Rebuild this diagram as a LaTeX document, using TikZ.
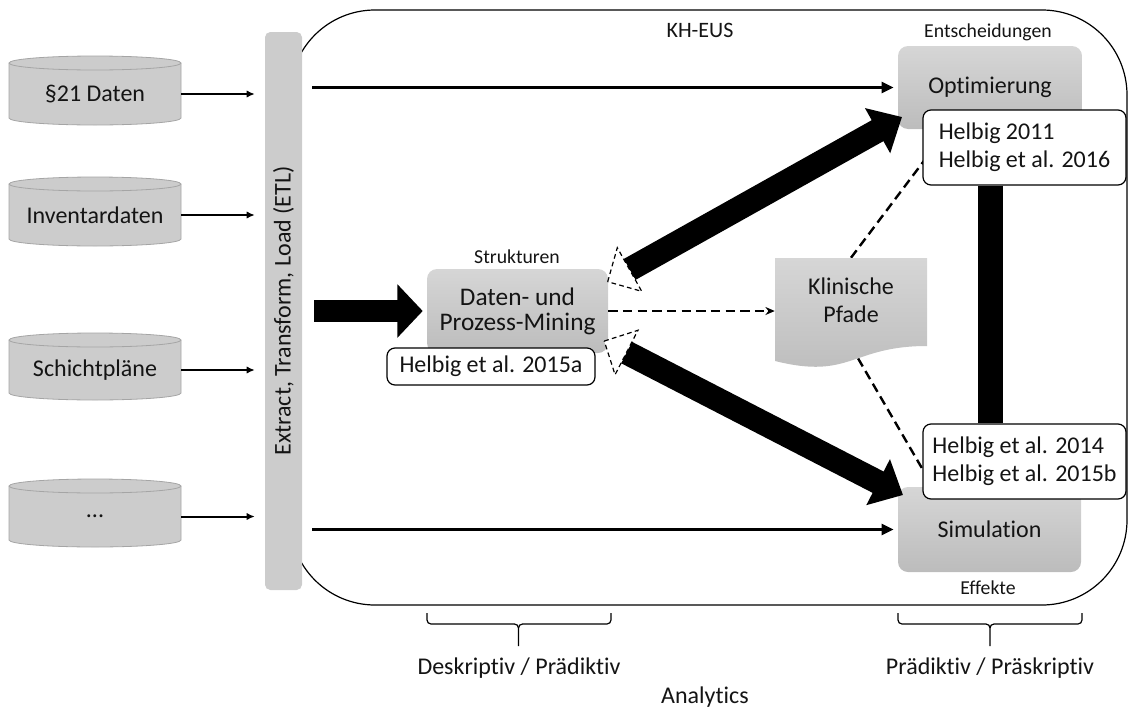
\documentclass[tikz,border=0pt]{standalone}
\usepackage{fontspec}
\setmainfont[Ligatures=NoCommon]{Carlito}
\usetikzlibrary{arrows.meta,calc}

\definecolor{boxtop}{RGB}{214,214,214}
\definecolor{boxbot}{RGB}{188,188,188}
\definecolor{etlgray}{RGB}{204,204,204}
\definecolor{cylgray}{RGB}{204,204,204}
\definecolor{cylline}{RGB}{165,165,165}
\definecolor{inktext}{RGB}{20,20,20}

\newcommand\mainsize{\fontsize{18}{21}\selectfont}
\newcommand\minorsize{\fontsize{14.8}{17}\selectfont}

% database cylinder: #1 name, #2 top y, #3 bottom y, #4 label
\newcommand{\dbcyl}[4]{%
  \pgfmathsetmacro\cyt{#2+7}%
  \pgfmathsetmacro\cyb{#3-7}%
  \pgfmathsetmacro\cym{(\cyt+#3)/2}%
  \path[fill=cylgray, draw=cylline, line width=0.6pt]
    (9,\cyt) -- (9,\cyb) .. controls (9,\cyb+3.9) and (47.5,#3) .. (95,#3)
    .. controls (142.5,#3) and (181,\cyb+3.9) .. (181,\cyb) -- (181,\cyt)
    .. controls (181,\cyt-3.9) and (142.5,#2) .. (95,#2)
    .. controls (47.5,#2) and (9,\cyt-3.9) .. (9,\cyt) -- cycle;
  \draw[cylline, line width=0.6pt] (9,\cyt) .. controls (9,\cyt+3.9) and (47.5,\cyt+7) .. (95,\cyt+7)
    .. controls (142.5,\cyt+7) and (181,\cyt+3.9) .. (181,\cyt);
  \node[cyltext] (#1) at (95,\cym) {#4};%
}

\begin{document}
\begin{tikzpicture}[x=0.75pt,y=-0.75pt,
  every node/.style={text=inktext},
  cyltext/.style={minimum width=129pt, minimum height=30pt, inner sep=0pt, font=\mainsize},
  graybox/.style={rounded corners=7.5pt, top color=boxtop, bottom color=boxbot, draw=none,
    align=center, font=\mainsize, inner sep=0pt},
  refbox/.style={draw=black, line width=0.9pt, fill=white, rounded corners=6pt, align=left,
    font=\mainsize, minimum width=152.25pt, inner xsep=0pt, inner ysep=0pt, minimum height=56.25pt},
  minorlabel/.style={font=\minorsize, inner sep=0pt},
  feed/.style={line width=1.5pt, -{Latex[length=6pt,width=5.5pt]}},
  flow/.style={line width=2.25pt, -{Triangle[length=9pt,width=8pt]}},
  fat/.style={line width=18pt, -{Triangle[length=21pt,width=37.5pt]}},
  dashlink/.style={line width=1.8pt, dash pattern=on 7pt off 4pt},
  opentri/.style={draw=black, fill=white, line width=0.9pt, dash pattern=on 3.5pt off 2.5pt, line join=miter},
  bracket/.style={line width=0.9pt}
]
\useasboundingbox (0,0) rectangle (1136,711);

% system frame
\draw[line width=0.9pt, rounded corners=63.75pt] (290,10) rectangle (1127,605);
\node[minorlabel, font=\fontsize{16.5}{19}\selectfont] (kheus) at (700,30) {KH-EUS};

% ETL bar
\node[fill=etlgray, rounded corners=4pt, minimum width=27.75pt, minimum height=418.5pt, inner sep=0pt]
  (etl) at (283.5,311) {};
\node[rotate=90, font=\mainsize, inner sep=0pt] (etltext) at (etl.center) {Extract, Transform, Load (ETL)};

% data sources
\dbcyl{c1}{56}{125}{§21 Daten}
\dbcyl{c2}{177}{246}{Inventardaten}
\dbcyl{c3}{333}{400}{Schichtpläne}
\dbcyl{c4}{479}{547}{...}
\foreach \c in {c1,c2,c3,c4}
  \draw[feed, shorten >=7.5pt] (\c.east) -- (etl.west |- \c.east);

% decision and effect modules
\node[graybox, minimum width=138pt, minimum height=62.25pt] (opt) at (990,87.5) {Optimierung};
\node[graybox, minimum width=137.25pt, minimum height=63.75pt] (sim) at (989.5,529.5) {Simulation};
\node[minorlabel] (entsch) at (988,32) {Entscheidungen};
\node[minorlabel] (eff) at (988,588) {Effekte};

% direct feeds from ETL
\draw[flow, shorten <=7.5pt, shorten >=3pt] (etl.east |- opt.west) -- (opt.west);
\draw[flow, shorten <=7.5pt, shorten >=3pt] (etl.east |- sim.west) -- (sim.west);

% clinical pathways (document shape)
\node[minimum width=114pt, minimum height=66pt, inner sep=0pt] (pfbox) at (851,302) {};
\draw[dashlink] (pfbox.north) -- ($(opt.south west)+(50,0)$);
\draw[dashlink, shorten <=10.5pt] (pfbox.south) -- ($(sim.north west)+(35,0)$);
\path[top color=boxtop, bottom color=boxbot]
  (775,258) -- (927,258) -- (927,346) .. controls (851,346) and (851,380) .. (775,361) -- cycle;
\node[align=center, font=\mainsize, inner sep=0pt] (pf) at (851,300) {Klinische\\Pfade};

% mining module
\node[graybox, minimum width=135.75pt, minimum height=63pt, font=\fontsize{19}{18.75}\selectfont]
  (dm) at (517.5,311) {Daten- und\\Prozess-Mining};
\node[minorlabel] (strukt) at (517,257) {Strukturen};
\node[refbox, minimum width=156pt, minimum height=27.75pt] (r15a) at (491,366.5) {Helbig et al. 2015a};
\draw[dashlink, -{Stealth[length=7pt,width=6pt]}] (dm.east) -- (dm.east -| pfbox.west);

% ETL into mining
\draw[line width=16.5pt, -{Triangle[length=19pt,width=39pt]}]
  ($(etl.east |- dm.west)+(12,0)$) -- ($(dm.west)+(-4,0)$);

% thick links between mining and the two modules
\coordinate (ua) at (629.5,269.5);
\coordinate (ub) at (902,117);
\coordinate (la) at (626.5,352.5);
\coordinate (lb) at (903,495);
\draw[fat] (ua) -- (ub);
\draw[fat] (la) -- (lb);
\draw[opentri] ($(ua)!18.75pt!180:(ub)$) -- ($(ua)!18.75pt!90:(ub)$) -- ($(ua)!18.75pt!-90:(ub)$) -- cycle;
\draw[opentri] ($(la)!18.75pt!180:(lb)$) -- ($(la)!18.75pt!90:(lb)$) -- ($(la)!18.75pt!-90:(lb)$) -- cycle;

% references
\node[refbox] (r11) at (1024.5,147.5) {Helbig 2011\\Helbig et al. 2016};
\node[refbox] (r14) at (1024.5,461.5) {Helbig et al. 2014\\Helbig et al. 2015b};
\draw[line width=18.75pt] (r11.south -| opt.center) -- (r14.north -| opt.center);

% analytics brackets
\draw[bracket] (427,613) -- (427,620) to[out=-90,in=180] (431,624) -- (514.5,624)
  to[out=0,in=90] (518.5,628) -- (518.5,646);
\draw[bracket] (611,613) -- (611,620) to[out=-90,in=0] (607,624) -- (522.5,624)
  to[out=180,in=90] (518.5,628);
\draw[bracket] (898,613) -- (898,620) to[out=-90,in=180] (902,624) -- (986,624)
  to[out=0,in=90] (990,628) -- (990,646);
\draw[bracket] (1082,613) -- (1082,620) to[out=-90,in=0] (1078,624) -- (994,624)
  to[out=180,in=90] (990,628);
\node[font=\mainsize, inner sep=0pt] (desc) at (519,668) {Deskriptiv / Prädiktiv};
\node[font=\mainsize, inner sep=0pt] (presc) at (990,668) {Prädiktiv / Präskriptiv};
\node[font=\mainsize, inner sep=0pt] (analytics) at (705,697) {Analytics};
\end{tikzpicture}
\end{document}
